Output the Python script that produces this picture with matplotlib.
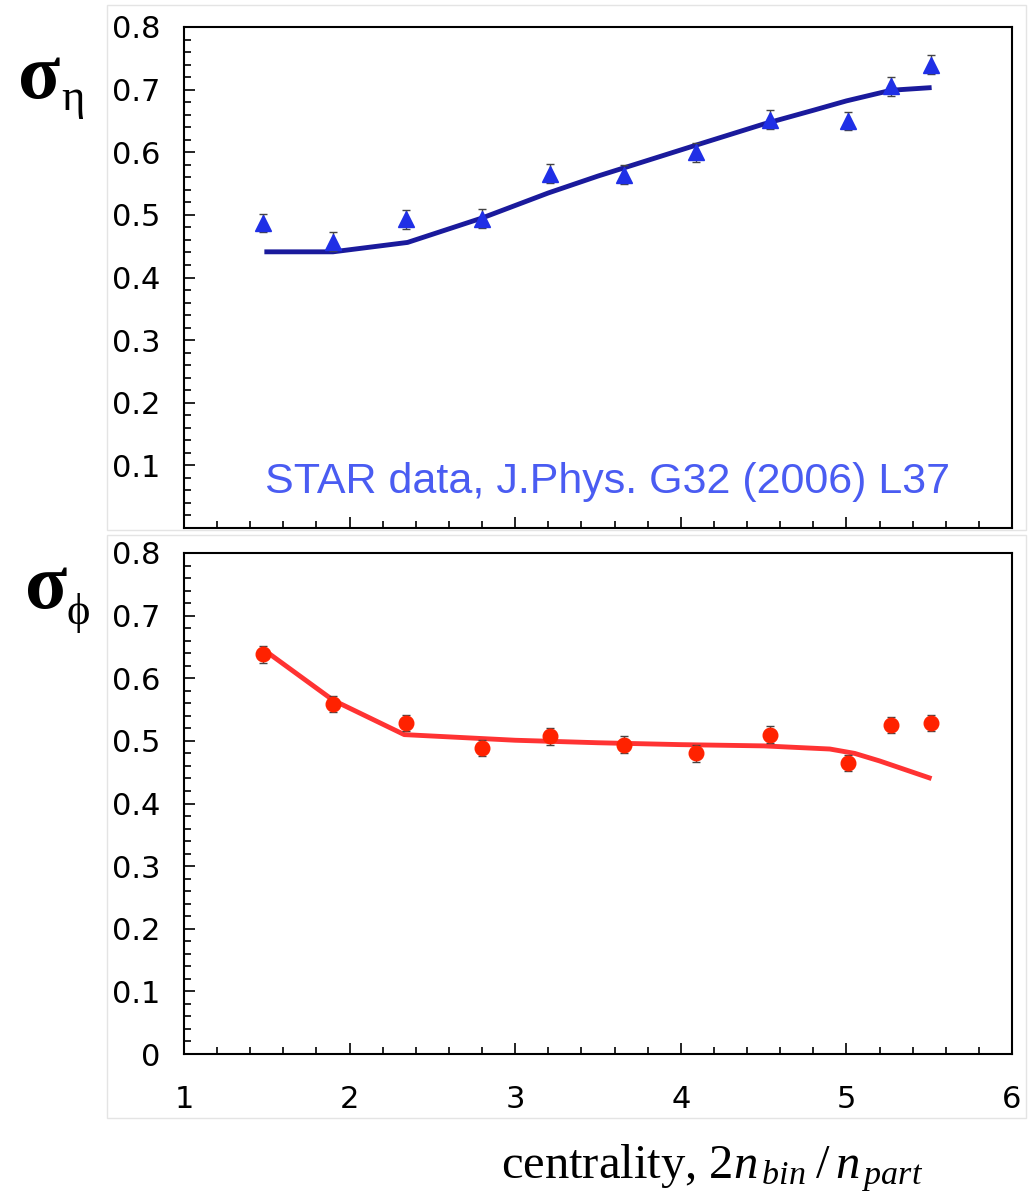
import numpy as np
import matplotlib
matplotlib.use('Agg')
import matplotlib.pyplot as plt
from matplotlib.ticker import MultipleLocator
from matplotlib.patches import Rectangle

plt.rcParams['mathtext.fontset'] = 'custom'
plt.rcParams['mathtext.rm'] = 'Liberation Serif'
plt.rcParams['mathtext.it'] = 'Liberation Serif:italic'

# sigma_eta data (STAR) and model curve
eta_x = [1.48, 1.90, 2.34, 2.80, 3.21, 3.66, 4.09, 4.54, 5.01, 5.27, 5.51]
eta_y = [0.487, 0.457, 0.493, 0.494, 0.566, 0.564, 0.600, 0.652, 0.650, 0.705, 0.740]
eta_err = [0.015] * 11
eta_model_x = [1.5, 1.9, 2.35, 2.8, 3.2, 3.5, 3.8, 4.1, 4.5, 4.8, 5.0, 5.27, 5.5]
eta_model_y = [0.441, 0.441, 0.456, 0.495, 0.535, 0.562, 0.587, 0.612, 0.645, 0.667, 0.682, 0.699, 0.703]

# sigma_phi data and model curve
phi_x = [1.48, 1.90, 2.34, 2.80, 3.21, 3.66, 4.09, 4.54, 5.01, 5.27, 5.51]
phi_y = [0.638, 0.559, 0.529, 0.489, 0.507, 0.494, 0.480, 0.510, 0.465, 0.525, 0.529]
phi_err = [0.013] * 11
phi_model_x = [1.5, 1.9, 2.33, 3.0, 3.5, 4.0, 4.5, 4.9, 5.05, 5.2, 5.5]
phi_model_y = [0.642, 0.565, 0.510, 0.501, 0.497, 0.494, 0.492, 0.487, 0.480, 0.468, 0.441]

W, H = 1034, 1194
fig = plt.figure(figsize=(W / 100, H / 100), dpi=100)

def px(x0, y0, x1, y1):
    # pixel box -> figure fraction rect
    return [x0 / W, 1 - y1 / H, (x1 - x0) / W, (y1 - y0) / H]

# faint frames from the original slide composition
fig.add_artist(Rectangle((107 / W, 1 - 530 / H), 919 / W, 525 / H, transform=fig.transFigure,
                         fill=False, edgecolor='#e4e4e4', lw=1))
fig.add_artist(Rectangle((107 / W, 1 - 1118 / H), 919 / W, 583 / H, transform=fig.transFigure,
                         fill=False, edgecolor='#e4e4e4', lw=1))

ax1 = fig.add_axes(px(184, 27, 1012, 528))
ax2 = fig.add_axes(px(184, 553, 1012, 1054))

for ax in (ax1, ax2):
    ax.set_xlim(1, 6)
    ax.set_ylim(0, 0.8)
    ax.xaxis.set_major_locator(MultipleLocator(1))
    ax.xaxis.set_minor_locator(MultipleLocator(0.2))
    ax.yaxis.set_minor_locator(MultipleLocator(0.02))
    ax.tick_params(which='both', direction='in', top=False, right=False, width=1.2)
    ax.tick_params(which='major', length=8)
    ax.tick_params(which='minor', length=5)
    ax.tick_params(axis='y', labelsize=22, pad=17)
    ax.tick_params(axis='x', labelsize=22, pad=22)
    for s in ax.spines.values():
        s.set_linewidth(1.5)

yt = [0.1, 0.2, 0.3, 0.4, 0.5, 0.6, 0.7, 0.8]
ax1.set_yticks(yt)
ax1.set_yticklabels([str(v) for v in yt])
ax1.tick_params(axis='x', labelbottom=False)
ax2.set_yticks([0] + yt)
ax2.set_yticklabels(['0'] + [str(v) for v in yt])

# top panel
ax1.plot(eta_model_x, eta_model_y, color='#1a1a9c', lw=3.5, zorder=2)
ax1.errorbar(eta_x, eta_y, yerr=eta_err, fmt='none', ecolor='#444444', elinewidth=1, capsize=3, zorder=3)
ax1.plot(eta_x, eta_y, '^', color='#1f2fe6', markersize=11, zorder=4)
ax1.text(0.512, 0.069, 'STAR data, J.Phys. G32 (2006) L37', transform=ax1.transAxes, ha='center',
         va='baseline', fontsize=31, color='#4a5cf2', family='Liberation Sans')

# bottom panel
ax2.plot(phi_model_x, phi_model_y, color='#ff3333', lw=3.5, zorder=2)
ax2.errorbar(phi_x, phi_y, yerr=phi_err, fmt='none', ecolor='#444444', elinewidth=1, capsize=3, zorder=3)
ax2.plot(phi_x, phi_y, 'o', color='#ff2200', markersize=10.5, zorder=4)

# axis labels
fig.text(39 / W, 1 - 98 / H, 'σ', fontsize=56, family='Liberation Serif', fontweight='bold',
         ha='center', va='baseline')
fig.text(61 / W, 1 - 110 / H, 'η', fontsize=32, family='Liberation Serif', ha='left', va='baseline')
fig.text(46 / W, 1 - 608 / H, 'σ', fontsize=56, family='Liberation Serif', fontweight='bold',
         ha='center', va='baseline')
fig.text(66 / W, 1 - 624 / H, 'ϕ', fontsize=32, family='Liberation Serif', ha='left', va='baseline')

fig.text(712 / W, 1 - 1178 / H, r'centrality, $\mathrm{2}n_{\,bin}\;/\,n_{\,part}$', fontsize=35,
         family='Liberation Serif', ha='center', va='baseline')

fig.savefig('out.png', dpi=100)
